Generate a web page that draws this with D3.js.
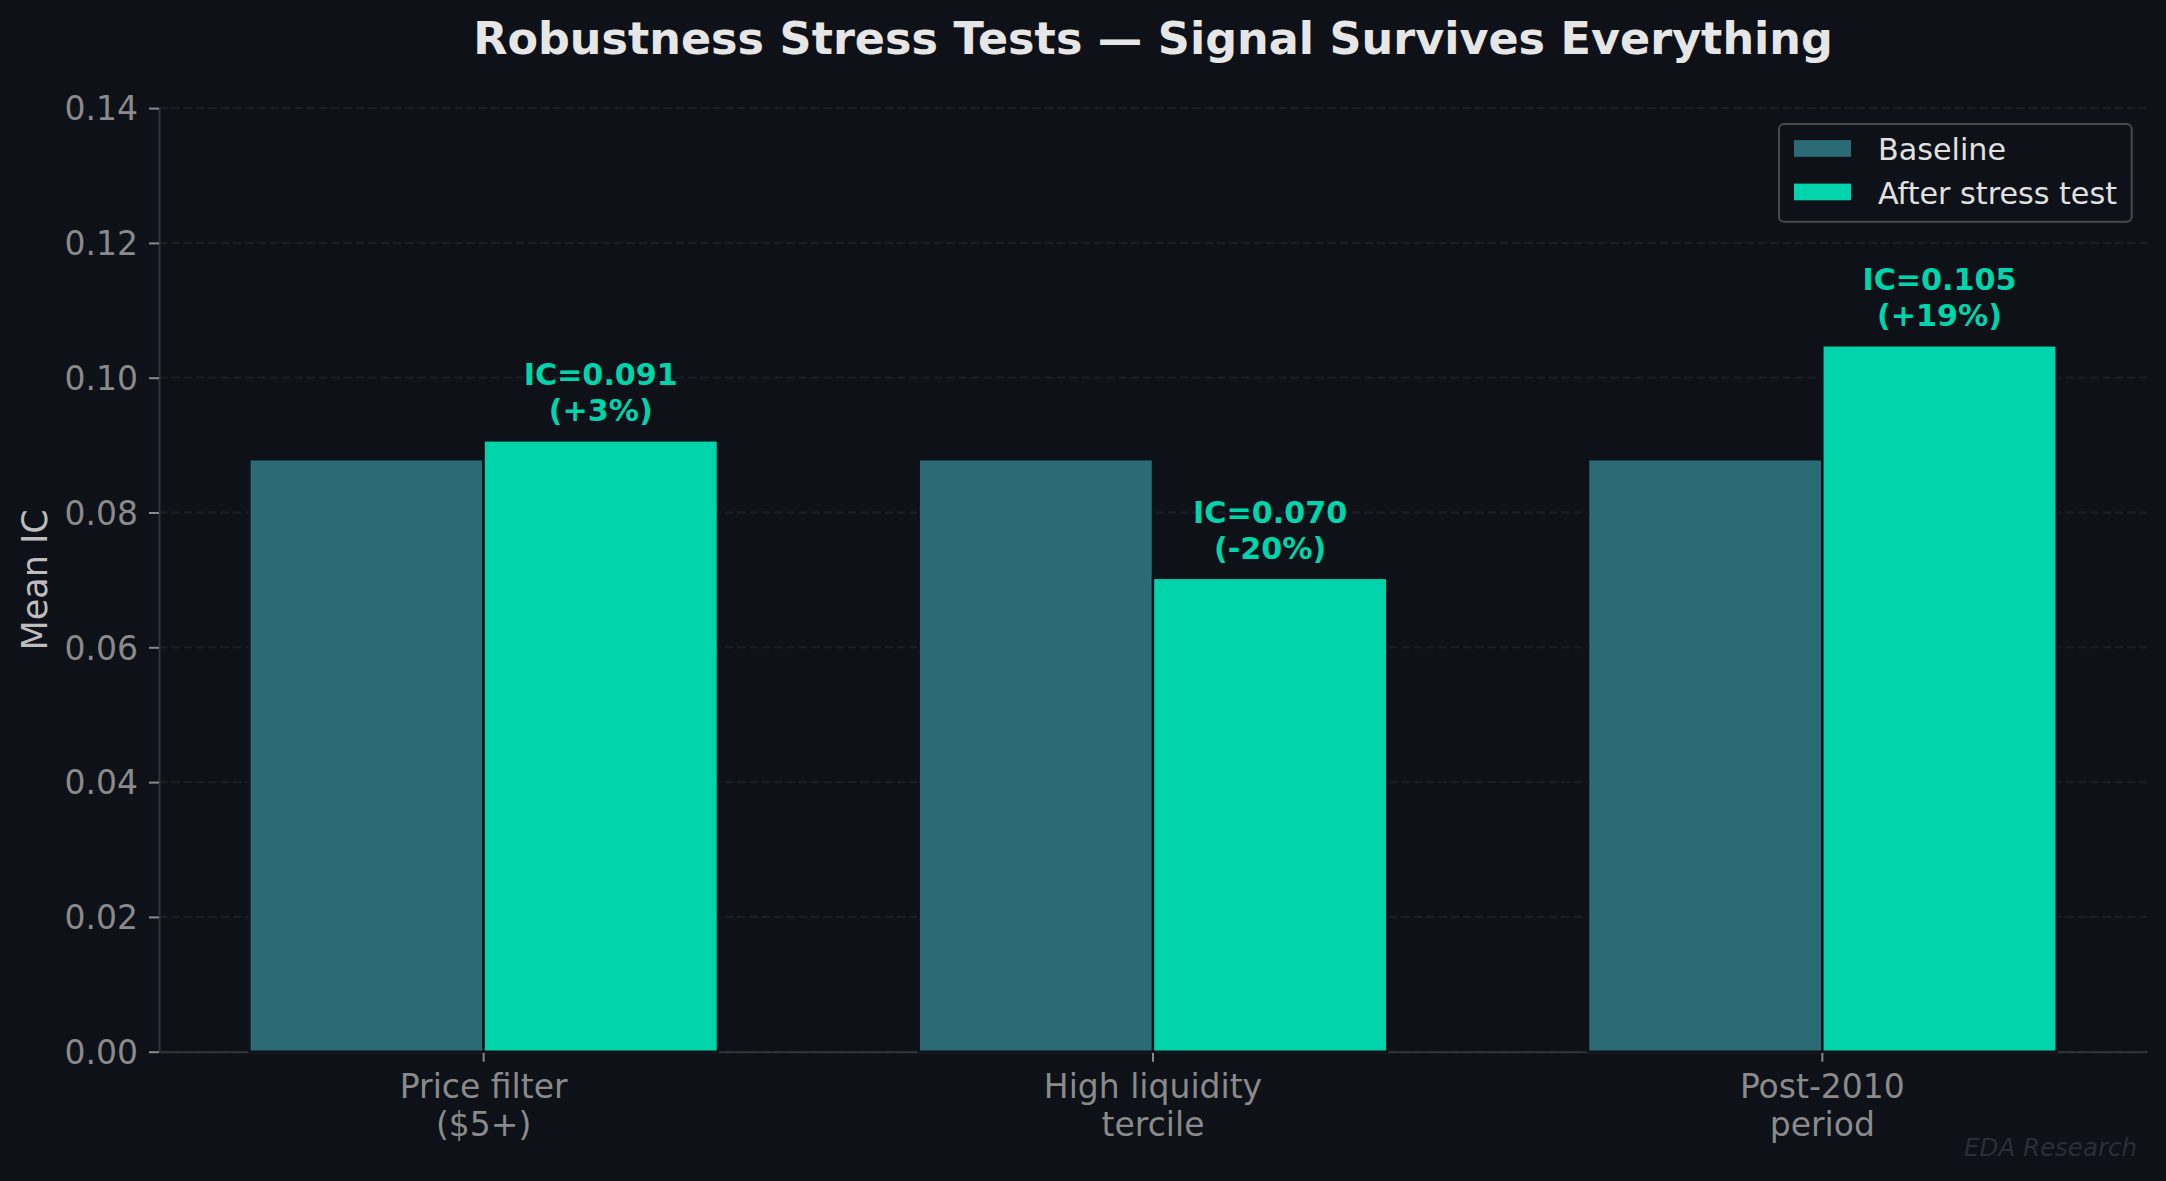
<!DOCTYPE html>
<html>
<head>
<meta charset="utf-8">
<script src="https://cdn.jsdelivr.net/npm/d3@7"></script>
<style>
  html, body { margin: 0; padding: 0; background: #0e1117; }
  svg { display: block; font-family: "DejaVu Sans", sans-serif; }
</style>
</head>
<body>
<svg id="chart"></svg>
<script>
// data
const categories = ['Price filter\n($5+)', 'High liquidity\ntercile', 'Post-2010\nperiod'];
const seriesNames = ['Baseline', 'After stress test'];
const baselineIC = [0.0879, 0.0879, 0.0879];
const stressIC = [0.0907, 0.0703, 0.1048];
const yTicks = [0, 0.02, 0.04, 0.06, 0.08, 0.10, 0.12, 0.14];

const W = 2166, H = 1181;
const bg = '#0e1117';
const colors = ['#2a6b75', '#00d4aa'];

const svg = d3.select('#chart')
  .attr('width', W)
  .attr('height', H)
  .style('background', bg);

svg.append('rect')
  .attr('width', W)
  .attr('height', H)
  .attr('fill', bg);

// scales
const x0 = d3.scaleBand()
  .domain(categories)
  .range([159, 2147])
  .paddingInner(0.3)
  .paddingOuter(0.135);

const x1 = d3.scaleBand()
  .domain(seriesNames)
  .range([0, x0.bandwidth()]);

const y = d3.scaleLinear()
  .domain([0, 0.14])
  .range([1051.7, 108.1]);

const [left, right] = x0.range();

// grid lines behind bars
svg.append('g')
  .selectAll('line')
  .data(yTicks)
  .enter().append('line')
  .attr('x1', left)
  .attr('x2', right)
  .attr('y1', d => y(d))
  .attr('y2', d => y(d))
  .attr('stroke', '#191d24')
  .attr('stroke-width', 2.3)
  .attr('stroke-dasharray', '8.6,3.7');

// y axis
const yAxis = svg.append('g')
  .attr('transform', `translate(${left},0)`)
  .call(d3.axisLeft(y)
    .tickValues(yTicks)
    .tickFormat(d3.format('.2f'))
    .tickSize(10)
    .tickSizeOuter(0)
    .tickPadding(11));

yAxis.select('.domain').attr('stroke', '#30343c').attr('stroke-width', 2);
yAxis.selectAll('.tick line').attr('stroke', '#8a8a8a').attr('stroke-width', 2);
yAxis.selectAll('.tick text')
  .attr('fill', '#8a8a8a')
  .attr('font-size', 33)
  .attr('font-family', 'DejaVu Sans')
  .attr('dy', '0.36em');

// x axis
const xAxis = svg.append('g')
  .attr('transform', `translate(0,${y(0)})`)
  .call(d3.axisBottom(x0)
    .tickSize(10)
    .tickSizeOuter(0)
    .tickPadding(0));

xAxis.select('.domain').attr('stroke', '#30343c').attr('stroke-width', 2);
xAxis.selectAll('.tick line').attr('stroke', '#8a8a8a').attr('stroke-width', 2);
xAxis.selectAll('.tick text').each(function(d) {
  const t = d3.select(this)
    .text(null)
    .attr('y', 0)
    .attr('dy', null)
    .attr('fill', '#8a8a8a')
    .attr('font-size', 33)
    .attr('font-family', 'DejaVu Sans');
  d.split('\n').forEach((line, i) => {
    t.append('tspan')
      .attr('x', 0)
      .attr('y', 46 + i * 38.6)
      .text(line);
  });
});

// bars
const rows = categories.map((c, i) => ({ cat: c, values: [baselineIC[i], stressIC[i]] }));

const groups = svg.append('g')
  .selectAll('g')
  .data(rows)
  .enter().append('g')
  .attr('transform', d => `translate(${x0(d.cat)},0)`);

groups.selectAll('rect')
  .data(d => d.values.map((v, j) => ({ name: seriesNames[j], value: v, j })))
  .enter().append('rect')
  .attr('x', d => x1(d.name))
  .attr('width', x1.bandwidth())
  .attr('y', d => y(d.value))
  .attr('height', d => y(0) - y(d.value))
  .attr('fill', d => colors[d.j])
  .attr('stroke', bg)
  .attr('stroke-width', 2.4);

// value labels above the stress-test bars
const labels = groups.append('text')
  .attr('text-anchor', 'middle')
  .attr('font-weight', 'bold')
  .attr('font-size', 30.2)
  .attr('fill', '#00d4aa');

labels.each(function(d) {
  const base = d.values[0], after = d.values[1];
  const pct = Math.round((after / base - 1) * 100);
  const cx = x1(seriesNames[1]) + x1.bandwidth() / 2;
  const top = y(after) - 19;
  const t = d3.select(this);
  t.append('tspan')
    .attr('x', cx)
    .attr('y', top - 36)
    .text(`IC=${after.toFixed(3)}`);
  t.append('tspan')
    .attr('x', cx)
    .attr('y', top)
    .text(`(${pct >= 0 ? '+' : ''}${pct}%)`);
});

// title
svg.append('text')
  .attr('x', (left + right) / 2)
  .attr('y', 54)
  .attr('text-anchor', 'middle')
  .attr('font-weight', 'bold')
  .attr('font-size', 44.5)
  .attr('fill', '#e6e6e6')
  .text('Robustness Stress Tests \u2014 Signal Survives Everything');

// y label
svg.append('text')
  .attr('transform', `translate(47,${(y(0) + y(0.14)) / 2}) rotate(-90)`)
  .attr('text-anchor', 'middle')
  .attr('font-size', 35)
  .attr('fill', '#bdbdbd')
  .text('Mean IC');

// legend, upper right
const legend = svg.append('g')
  .attr('transform', `translate(${right - 368},${y(0.14) + 16})`);

legend.append('rect')
  .attr('width', 352.7)
  .attr('height', 97.7)
  .attr('rx', 5)
  .attr('fill', bg)
  .attr('stroke', '#4a4a4a')
  .attr('stroke-width', 2);

const items = legend.selectAll('g.item')
  .data(seriesNames)
  .enter().append('g')
  .attr('class', 'item')
  .attr('transform', (d, i) => `translate(0,${i * 43.5})`);

items.append('rect')
  .attr('x', 15)
  .attr('y', 16)
  .attr('width', 57)
  .attr('height', 16.7)
  .attr('fill', (d, i) => colors[i]);

items.append('text')
  .attr('x', 99)
  .attr('y', 36)
  .attr('font-size', 30.2)
  .attr('fill', '#e0e0e0')
  .text(d => d);

// watermark
svg.append('text')
  .attr('x', 2137)
  .attr('y', 1156)
  .attr('text-anchor', 'end')
  .attr('font-style', 'italic')
  .attr('font-size', 24.5)
  .attr('fill', '#2a2e38')
  .text('EDA Research');
</script>
</body>
</html>
